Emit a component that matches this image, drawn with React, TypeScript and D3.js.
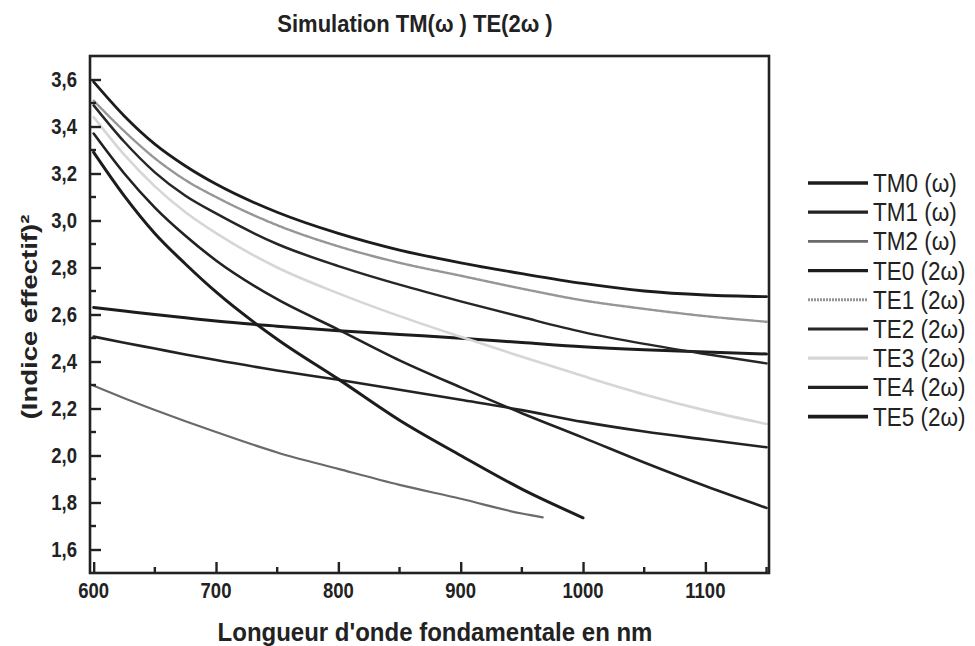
import * as d3 from 'd3';
import { useEffect, useRef } from 'react';

// longueurs d'onde (nm), plus serrées au début où les courbes plongent
const lambdaGrid = [600, 625, 650, 675, 700, 750, 800, 850, 900, 950, 1000, 1050, 1100, 1150];
const lambdaTM2 = [600, 625, 650, 675, 700, 750, 800, 850, 900, 950, 967];
const lambdaTE5 = [600, 625, 650, 675, 700, 750, 800, 850, 900, 950, 1000];

// (indice effectif)^2
const tm0 = [2.63, 2.615, 2.6, 2.586, 2.572, 2.55, 2.531, 2.515, 2.499, 2.481, 2.463, 2.45, 2.44, 2.432];
const tm1 = [2.506, 2.48, 2.455, 2.43, 2.406, 2.362, 2.322, 2.28, 2.237, 2.193, 2.143, 2.102, 2.068, 2.035];
const tm2 = [2.297, 2.244, 2.194, 2.146, 2.1, 2.013, 1.943, 1.875, 1.816, 1.753, 1.737];
const te0 = [3.59, 3.445, 3.325, 3.232, 3.155, 3.035, 2.945, 2.874, 2.82, 2.774, 2.732, 2.7, 2.683, 2.676];
const te1 = [3.51, 3.38, 3.265, 3.172, 3.1, 2.98, 2.89, 2.82, 2.765, 2.71, 2.66, 2.624, 2.593, 2.569];
const te2 = [3.49, 3.335, 3.205, 3.105, 3.03, 2.9, 2.806, 2.727, 2.656, 2.589, 2.525, 2.475, 2.432, 2.392];
const te3 = [3.44, 3.28, 3.145, 3.035, 2.946, 2.8, 2.69, 2.593, 2.505, 2.42, 2.338, 2.26, 2.192, 2.134];
const te4 = [3.37, 3.2, 3.055, 2.935, 2.83, 2.665, 2.536, 2.405, 2.29, 2.18, 2.076, 1.97, 1.87, 1.777];
const te5 = [3.29, 3.105, 2.945, 2.815, 2.696, 2.495, 2.325, 2.15, 2.0, 1.857, 1.735];

const labels = ['TM0 (\u03c9)', 'TM1 (\u03c9)', 'TM2 (\u03c9)', 'TE0 (2\u03c9)', 'TE1 (2\u03c9)', 'TE2 (2\u03c9)', 'TE3 (2\u03c9)', 'TE4 (2\u03c9)', 'TE5 (2\u03c9)'];
const xTicks = [600, 700, 800, 900, 1000, 1100];
const xMinorTicks = [650, 750, 850, 950, 1050, 1150];
const yTicks = [1.6, 1.8, 2.0, 2.2, 2.4, 2.6, 2.8, 3.0, 3.2, 3.4, 3.6];
const yMinorTicks = [1.7, 1.9, 2.1, 2.3, 2.5, 2.7, 2.9, 3.1, 3.3, 3.5];

type Serie = { name: string; lambda: number[]; values: number[]; color: string; width: number; dash?: string; z: number };

const series: Serie[] = [
    { name: labels[0], lambda: lambdaGrid, values: tm0, color: '#1c1c1c', width: 3, z: 0 },
    { name: labels[1], lambda: lambdaGrid, values: tm1, color: '#222', width: 2.6, z: 0 },
    { name: labels[2], lambda: lambdaTM2, values: tm2, color: '#6a6a6a', width: 2.2, z: 0 },
    { name: labels[3], lambda: lambdaGrid, values: te0, color: '#1c1c1c', width: 2.8, z: 0 },
    { name: labels[4], lambda: lambdaGrid, values: te1, color: '#969696', width: 2.4, dash: '2,1', z: 0 },
    { name: labels[5], lambda: lambdaGrid, values: te2, color: '#262626', width: 2.5, z: 0 },
    { name: labels[6], lambda: lambdaGrid, values: te3, color: '#d6d6d6', width: 2.6, z: 1 },
    { name: labels[7], lambda: lambdaGrid, values: te4, color: '#222', width: 2.6, z: 0 },
    { name: labels[8], lambda: lambdaTE5, values: te5, color: '#1c1c1c', width: 3, z: 0 },
];

const font = '"Liberation Sans", Arial, sans-serif';

export default function App() {
    const ref = useRef<SVGSVGElement | null>(null);

    useEffect(() => {
        if (!ref.current) return;
        const svg = d3.select(ref.current);
        svg.selectAll('*').remove();

        const plot = { left: 90, right: 769, top: 56, bottom: 573 };
        const x = d3.scaleLinear().domain([597, 1152]).range([plot.left, plot.right]);
        const y = d3.scaleLinear().domain([1.5, 3.7]).range([plot.bottom, plot.top]);

        svg.append('rect').attr('width', 975).attr('height', 646).attr('fill', '#fff');

        // texte un peu étiré verticalement comme sur la figure
        const label = (tx: number, ty: number, txt: string, size: number, anchor: string, bold: boolean, sy = 1.15) =>
            svg.append('text')
                .attr('transform', `translate(${tx},${ty}) scale(1,${sy})`)
                .attr('text-anchor', anchor)
                .style('font-family', font)
                .style('font-weight', bold ? 'bold' : 'normal')
                .style('font-size', `${size}px`)
                .attr('fill', '#222')
                .text(txt);

        // titre
        label(415, 32, 'Simulation TM(\u03c9 ) TE(2\u03c9 )', 22, 'middle', true, 1.05);

        // courbes (TE3, gris clair, dessinée par-dessus)
        const line = d3
            .line<[number, number]>()
            .x((d) => x(d[0]))
            .y((d) => y(d[1]))
            .curve(d3.curveMonotoneX);

        const g = svg.append('g');
        [...series].sort((a, b) => a.z - b.z).forEach((s) => {
            const pts = s.lambda.map((l, i) => [l, s.values[i]] as [number, number]);
            g.append('path')
                .attr('d', line(pts))
                .attr('fill', 'none')
                .attr('stroke', s.color)
                .attr('stroke-width', s.width)
                .attr('stroke-dasharray', s.dash ?? null)
                .attr('stroke-linecap', 'round');
        });

        // cadre
        svg.append('rect')
            .attr('x', plot.left)
            .attr('y', plot.top)
            .attr('width', plot.right - plot.left)
            .attr('height', plot.bottom - plot.top)
            .attr('fill', 'none')
            .attr('stroke', '#222')
            .attr('stroke-width', 2.6);

        // graduations X vers l'intérieur
        const gx = svg
            .append('g')
            .attr('transform', `translate(0,${plot.bottom})`)
            .call(d3.axisBottom(x).tickValues(xTicks).tickSizeInner(-11).tickSizeOuter(0).tickFormat(() => ''));
        gx.select('.domain').remove();
        gx.selectAll('line').attr('stroke', '#222').attr('stroke-width', 2.4);

        svg.append('g')
            .selectAll('line')
            .data(xMinorTicks)
            .join('line')
            .attr('x1', (d) => x(d))
            .attr('x2', (d) => x(d))
            .attr('y1', plot.bottom)
            .attr('y2', plot.bottom - 6)
            .attr('stroke', '#222')
            .attr('stroke-width', 2.4);

        xTicks.forEach((t) => label(x(t), 598, d3.format('d')(t), 18.5, 'middle', true));

        // graduations Y
        const gy = svg
            .append('g')
            .attr('transform', `translate(${plot.left},0)`)
            .call(d3.axisLeft(y).tickValues(yTicks).tickSizeInner(-11).tickSizeOuter(0).tickFormat(() => ''));
        gy.select('.domain').remove();
        gy.selectAll('line').attr('stroke', '#222').attr('stroke-width', 2.4);

        svg.append('g')
            .selectAll('line')
            .data(yMinorTicks)
            .join('line')
            .attr('x1', plot.left)
            .attr('x2', plot.left + 6)
            .attr('y1', (d) => y(d))
            .attr('y2', (d) => y(d))
            .attr('stroke', '#222')
            .attr('stroke-width', 2.4);

        yTicks.forEach((t) => label(77, y(t) + 7.5, d3.format('.1f')(t).replace('.', ','), 18.5, 'end', true));

        // titres des axes
        label(435, 641, "Longueur d'onde fondamentale en nm", 24, 'middle', true, 1.1);

        svg.append('text')
            .attr('transform', `translate(37,317) rotate(-90) scale(1.25,1)`)
            .attr('text-anchor', 'middle')
            .style('font-family', font)
            .style('font-weight', 'bold')
            .style('font-size', '22px')
            .attr('fill', '#222')
            .text('(Indice effectif)\u00b2');

        // légende
        series.forEach((s, i) => {
            const ly = 183 + i * 29.2;
            svg.append('line')
                .attr('x1', 808)
                .attr('x2', 868)
                .attr('y1', ly)
                .attr('y2', ly)
                .attr('stroke', s.color)
                .attr('stroke-width', s.width + 0.6)
                .attr('stroke-dasharray', s.dash ?? null);
            label(873, ly + 9, s.name, 22.5, 'start', false, 1.12);
        });
    }, []);

    return (
        <div style={{ position: 'absolute', left: 0, top: 0 }}>
            <svg ref={ref} width={975} height={646} />
        </div>
    );
}
